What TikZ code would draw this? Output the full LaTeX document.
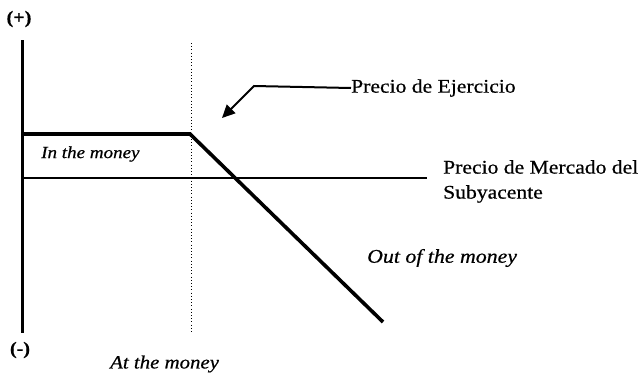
\documentclass[tikz,border=0pt]{standalone}
\usepackage{fontspec}
\setmainfont[FakeStretch=1.12,FakeBold=0.6]{Liberation Serif}
\usetikzlibrary{arrows.meta}
\begin{document}
\begin{tikzpicture}[x=1pt,y=-1pt,
  lbl/.style={anchor=west,inner sep=0pt,font=\fontsize{19.3}{25}\selectfont},
  itl/.style={anchor=west,inner sep=0pt,font=\fontsize{17}{20}\selectfont\itshape},
  axisline/.style={line width=3pt},
  payoff/.style={line width=3.6pt,line join=miter},
  market/.style={line width=2pt},
  strike/.style={line width=0.9pt,dash pattern=on 1pt off 2.2pt}]
  \useasboundingbox (0,0) rectangle (643,373);
  % axis
  \coordinate (top) at (22,40);
  \coordinate (bot) at (22,333);
  \draw[axisline] (top) -- (bot);
  \node[inner sep=0pt,font=\fontsize{18}{20}\selectfont\bfseries] (plus) at (19,19) {(+)};
  \node[inner sep=0pt,font=\fontsize{18}{20}\selectfont\bfseries] (minus) at (20,350) {(-)};
  % strike level
  \coordinate (stop) at (191,43);
  \coordinate (sbot) at (191,334);
  \draw[strike] (stop) -- (sbot);
  % market price
  \coordinate (m0) at (22,178);
  \coordinate (m1) at (427,178);
  \draw[market] (m0) -- (m1);
  % payoff
  \coordinate (p0) at (22,134);
  \coordinate (p1) at (190,134);
  \coordinate (p2) at (383,322);
  \draw[payoff] (p0) -- (p1) -- (p2);
  % labels
  \node[lbl] (ejer) at (351,88) {Precio de Ejercicio};
  \coordinate (bend) at (254,86);
  \coordinate (tip) at (222,118);
  \draw[line width=2pt,-{Triangle[length=13pt,width=12pt]}] (ejer.west) -- (bend) -- (tip);
  \node[lbl,align=left,anchor=north west] (merc) at (443,160) {Precio de Mercado del\\Subyacente};
  \node[itl] (inm) at (41,154) {In the money};
  \node[itl,font=\fontsize{19.5}{22}\selectfont\itshape] (outm) at (367,258) {Out of the money};
  \node[itl,font=\fontsize{18.6}{22}\selectfont\itshape] (atm) at (110,364) {At the money};
\end{tikzpicture}
\end{document}
